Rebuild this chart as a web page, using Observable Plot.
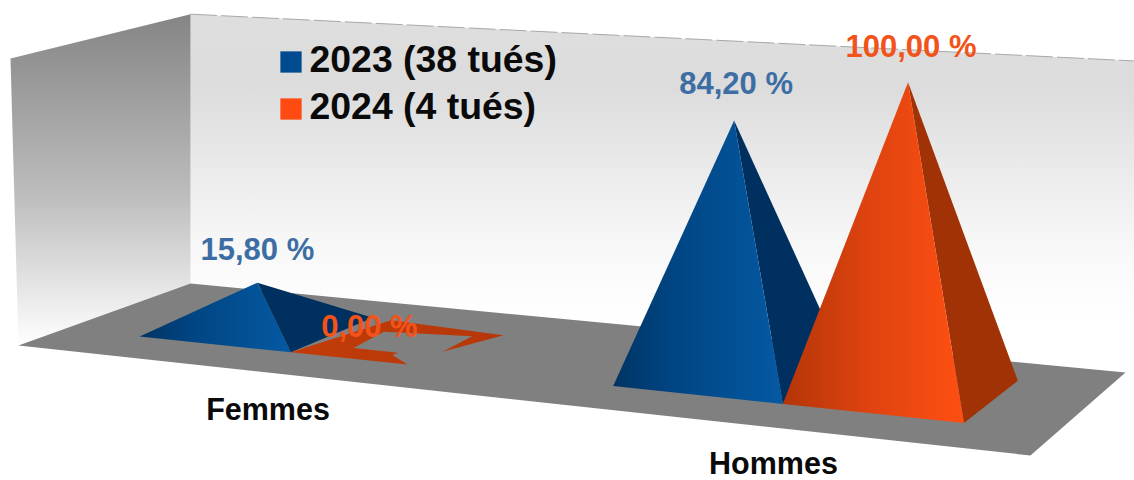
<!DOCTYPE html>
<html><head><meta charset="utf-8">
<script src="https://cdn.jsdelivr.net/npm/d3@7"></script>
<script src="https://cdn.jsdelivr.net/npm/@observablehq/plot@0.6"></script>
<style>html,body{margin:0;padding:0;background:#fff;overflow:hidden}svg{display:block}</style>
</head><body><div id="chart"></div>
<script>
const categories = ["Femmes", "Hommes"];
const seriesNames = ["2023 (38 tués)", "2024 (4 tués)"];
const values2023 = [15.8, 84.2];
const values2024 = [0, 100];
const fmt = v => v.toFixed(2).replace(".", ",") + " %";

// Perspective of the floor: unit square (u along categories, v in depth) to the page
const P = {a:859, b:190.5, c:18, d:42.4, e:-34.4, f:345, g:-0.1485, h:0.0974, K:2.87,
           lean:[-8, 6.8, 0, 9]};
function project(u, v, val = 0) {
  const w = 1 + P.g*u + P.h*v;
  const L = P.lean[0]*(1-u)*(1-v) + P.lean[1]*u*(1-v) + P.lean[2]*(1-u)*v + P.lean[3]*u*v;
  return {x: (P.a*u + P.b*v + P.c)/w + L*val/100, y: (P.d*u + P.e*v + P.f)/w - P.K/w*val};
}
// Layout: where each category sits on the floor
const catU = [0.2563, 0.754], halfW = 0.165, v0 = 0.254, v1 = 0.778;
const labelPos = [[0.349, -0.39], [0.817, -0.3526]];
const poly = (pts, key) => pts.map(p => ({...p, key}));

const floor = poly([project(0,0), project(1,0), project(1,1), project(0,1)], "floor");
const backWall = poly([project(0,1), project(0,1,103), project(1.01,1,103), project(1.01,1)], "back");
const leftWall = poly([project(0,0), project(0,0,100), project(0,1,103), project(0,1)], "left");
const backTop = poly([project(0,1,103), project(1.01,1,103)], "top");

function pyramid(u0, u1, val) {
  const c = project((u0+u1)/2, (v0+v1)/2, val);
  return {
    front: poly([project(u0,v0), project(u1,v0), c], "f"),
    side: poly([project(u1,v0), project(u1,v1), c], "s"),
    apex: c
  };
}
const f23 = pyramid(catU[0]-0.1697, catU[0], values2023[0]);
const h23 = pyramid(catU[1]-0.163, catU[1], values2023[1]);
const h24 = pyramid(catU[1], catU[1]+halfW, values2024[1]);
// The zero-height pyramid collapses into a broken flat shape on the floor
const flatTrace = [[0,0],[.757,.003],[.569,.174],[.576,.235],[.279,.242],[.244,.683],[.779,.785],[.796,.364],[.936,.885],[.136,.977]];
const f24 = poly(flatTrace.map(([s,t]) => project(catU[0]+s*halfW, v0+t*(v1-v0))), "flat");

const labels = [
  {t: fmt(values2023[0]), p: f23.apex, dx: 0, dy: -33, c: "#3d6ea3"},
  {t: fmt(values2024[0]), p: project(catU[0]+0.3*halfW, 0.36), dx: 16, dy: -23, c: "#f2531a"},
  {t: fmt(values2023[1]), p: h23.apex, dx: 2, dy: -36, c: "#3d6ea3"},
  {t: fmt(values2024[1]), p: h24.apex, dx: 3, dy: -35, c: "#f2531a"}
].map(d => ({text: d.t, x: d.p.x + d.dx, y: d.p.y + d.dy, c: d.c}));
const catLabels = categories.map((c, i) => ({text: c, ...project(labelPos[i][0], labelPos[i][1])}));
const legend = seriesNames.map((s, i) => ({text: s, x: 309, y: 60 + i*47, c: ["#004a8f", "#ff4a12"][i]}));

function gradient(id, stops, horizontal) {
  return `<linearGradient id="${id}" x1="0" y1="0" x2="${horizontal?1:0}" y2="${horizontal?0:1}">` +
    stops.map(([o,c]) => `<stop offset="${o}" stop-color="${c}"/>`).join("") + `</linearGradient>`;
}
const defs = () => {
  const g = d3.create("svg:g");
  g.append("defs").html(
    gradient("gBack", [[0,"#dedede"],[0.2,"#dcdcdc"],[0.65,"#f8f8f8"],[0.85,"#ffffff"]]) +
    gradient("gLeft", [[0,"#858585"],[0.55,"#bdbdbd"],[1,"#ffffff"]]) +
    gradient("gBlue", [[0,"#013463"],[0.35,"#004583"],[1,"#0559a3"]], true) +
    gradient("gOrange", [[0,"#b53508"],[0.5,"#e04410"],[1,"#ff4f12"]], true) +
    gradient("gFlat", [[0,"#c23c08"],[1,"#b5370a"]], true));
  return g.node();
};
const face = (d, fill) => Plot.line(d, {x:"x", y:"y", fill, stroke:"none", curve:"linear-closed"});
const font = "'Liberation Sans', Arial, sans-serif";

const chart = Plot.plot({
  width: 1134, height: 480, margin: 0,
  x: {domain:[0,1134], range:[0,1134], axis:null},
  y: {domain:[0,480], range:[0,480], axis:null},
  style: {background:"#fff", fontFamily: font},
  marks: [
    defs,
    face(backWall, "url(#gBack)"),
    face(leftWall, "url(#gLeft)"),
    Plot.line(backTop, {x:"x", y:"y", stroke:"#a8a8a8", strokeWidth:1, strokeDasharray:"26 5"}),
    face(floor, "#808080"),
    face(f23.front, "url(#gBlue)"),
    face(f23.side, "#00305f"),
    face(f24, "url(#gFlat)"),
    face(h23.side, "#00305f"),
    face(h23.front, "url(#gBlue)"),
    face(h24.side, "#a03206"),
    face(h24.front, "url(#gOrange)"),
    Plot.text(labels, {x:"x", y:"y", text:"text", fill:"c", fontSize:31, fontWeight:"bold", textAnchor:"middle"}),
    Plot.text(catLabels, {x:"x", y:"y", text:"text", fill:"#0a0a0a", fontSize:30.5, fontWeight:"bold", textAnchor:"middle"}),
    Plot.dot(legend, {x:d=>d.x-18.5, y:d=>d.y+1.5, symbol:"square", r:12, fill:"c"}),
    Plot.text(legend, {x:"x", y:"y", text:"text", fill:"#0a0a0a", fontSize:37.4, fontWeight:"bold", textAnchor:"start"})
  ]
});
document.getElementById("chart").append(chart);
</script></body></html>
